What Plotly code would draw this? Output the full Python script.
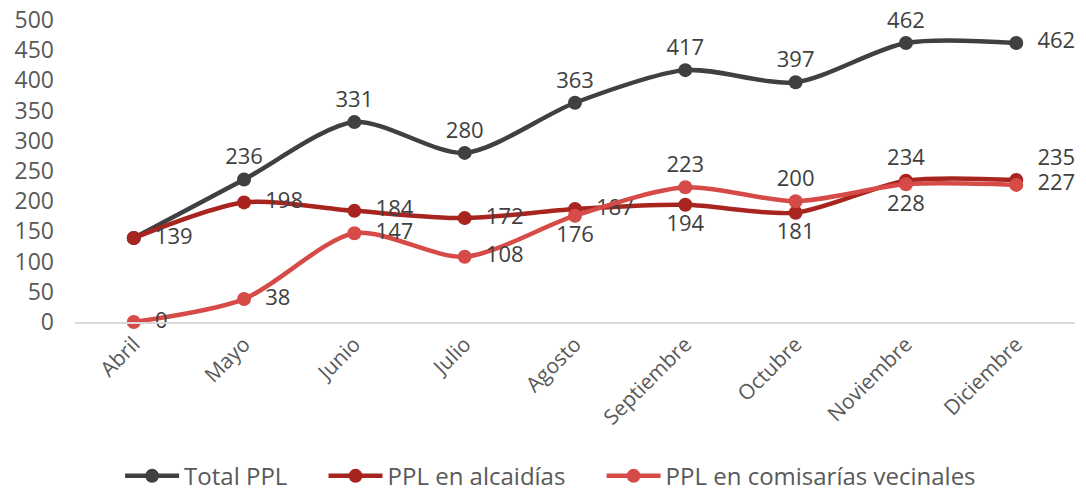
import plotly.graph_objects as go

months = ["Abril", "Mayo", "Junio", "Julio", "Agosto", "Septiembre", "Octubre", "Noviembre", "Diciembre"]
total_ppl = [139, 236, 331, 280, 363, 417, 397, 462, 462]
alcaidias = [139, 198, 184, 172, 187, 194, 181, 234, 235]
comisarias = [0, 38, 147, 108, 176, 223, 200, 228, 227]

# label placement per point
pos_total = ["top center"] * 8 + ["middle right"]
pos_alc = ["middle right", "middle right", "middle right", "middle right", "middle right",
           "bottom center", "bottom center", "top center", "top right"]
pos_com = ["middle right", "middle right", "middle right", "middle right", "bottom center",
           "top center", "top center", "bottom center", "middle right"]


def labels(vals, pos, skip_first=False):
    # labels right of a point sit a bit further away in the original
    out = []
    for i, (v, p) in enumerate(zip(vals, pos)):
        if skip_first and i == 0:
            out.append("")
        elif p.endswith("right"):
            out.append("\u00a0\u00a0" + str(v))
        else:
            out.append(str(v))
    return out


gap = "\u00a0" * 5
series = [
    ("Total PPL" + gap, total_ppl, "#404040", pos_total, labels(total_ppl, pos_total, True)),
    ("PPL en alcaidías" + gap, alcaidias, "#A8251F", pos_alc, labels(alcaidias, pos_alc)),
    ("PPL en comisarías vecinales", comisarias, "#D64B48", pos_com, labels(comisarias, pos_com)),
]

fig = go.Figure()
for name, vals, col, pos, txt in series:
    fig.add_trace(go.Scatter(
        x=months, y=vals, name=name, mode="lines+markers+text",
        line=dict(color=col, width=4.5, shape="spline", smoothing=0.8),
        marker=dict(color=col, size=14),
        text=txt, textposition=pos,
        textfont=dict(size=22, color="#404040"),
        cliponaxis=False,
    ))

fig.update_layout(
    width=1086, height=492,
    margin=dict(l=75, r=11, t=20, b=170, autoexpand=False),
    paper_bgcolor="white", plot_bgcolor="white",
    font=dict(family="Open Sans", size=20, color="#595959"),
    showlegend=True,
    legend=dict(orientation="h", x=0.507, xanchor="center", xref="container",
                y=0.032, yanchor="middle", yref="container",
                font=dict(size=24, color="#595959"), itemwidth=54, tracegroupgap=0),
    xaxis=dict(showgrid=False, showline=True, linecolor="#d9d9d9", linewidth=1.5,
               tickangle=-45, ticks="", automargin=False, ticklabeloverflow="allow",
               tickfont=dict(size=21, color="#595959")),
    yaxis=dict(range=[0, 500], dtick=50, showgrid=False, zeroline=False,
               ticks="", automargin=False, ticklabeloverflow="allow",
               ticklabelstandoff=20,
               tickfont=dict(size=23, color="#595959")),
)

# drop the default 8px page margin so the figure fills the window
fig.write_html("out.html", config={"displayModeBar": False},
               post_script="document.body.style.margin='0';")
